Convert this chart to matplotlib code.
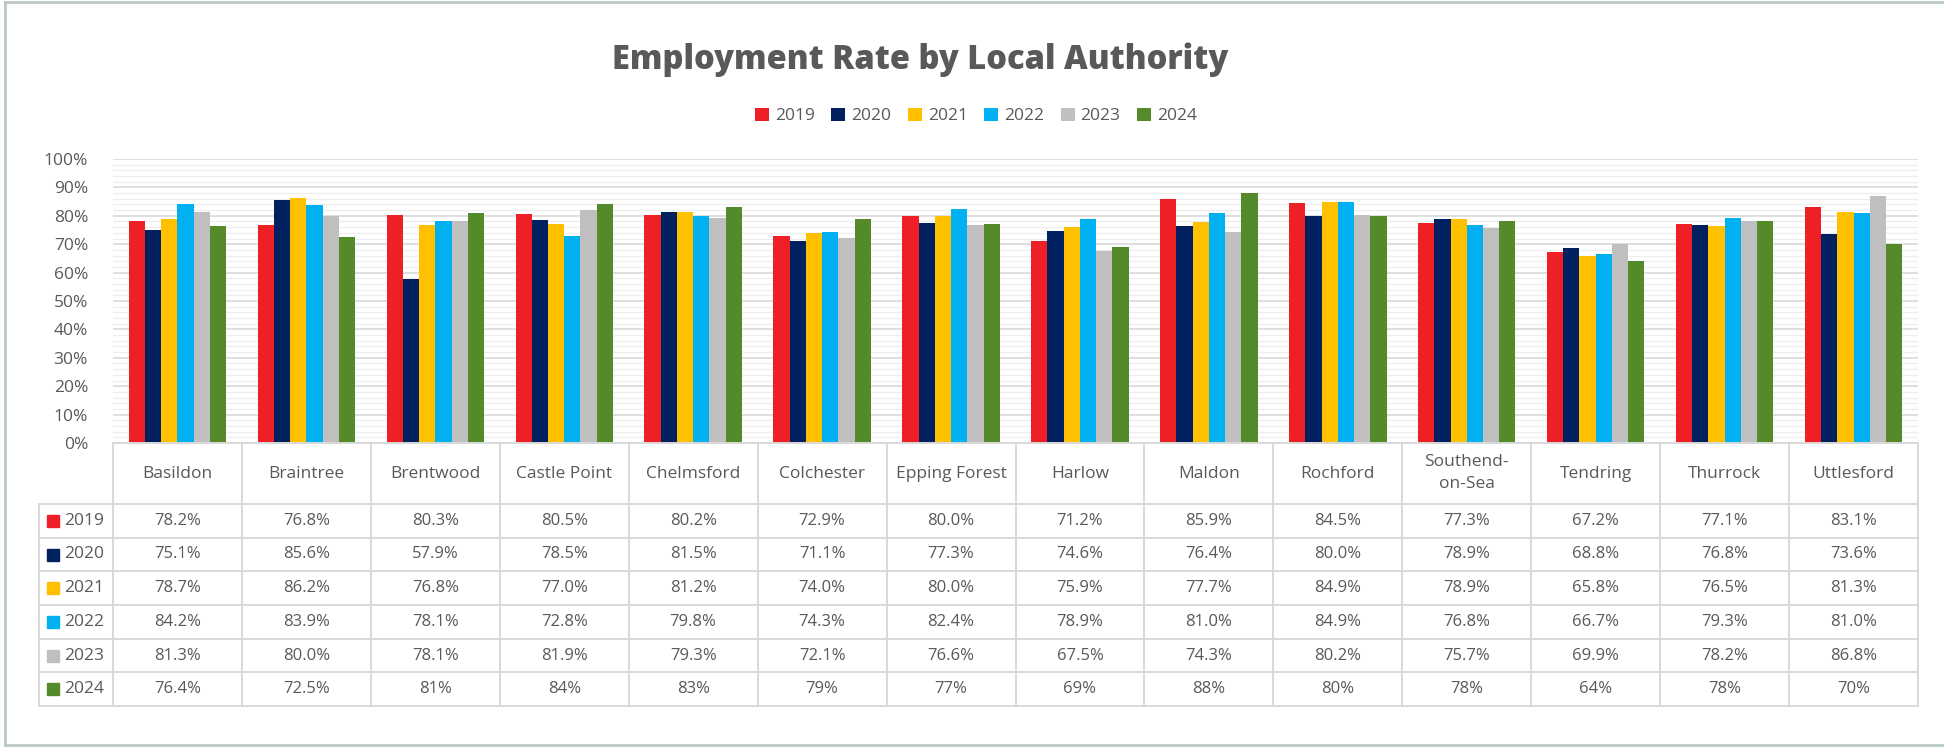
import matplotlib
matplotlib.use("Agg")
import matplotlib.pyplot as plt
import numpy as np
from matplotlib.patches import Rectangle

plt.rcParams['font.family'] = ['Open Sans', 'DejaVu Sans']

authorities = ["Basildon", "Braintree", "Brentwood", "Castle Point", "Chelmsford",
               "Colchester", "Epping Forest", "Harlow", "Maldon", "Rochford",
               "Southend-\non-Sea", "Tendring", "Thurrock", "Uttlesford"]
years = ["2019", "2020", "2021", "2022", "2023", "2024"]

rate_2019 = [78.2, 76.8, 80.3, 80.5, 80.2, 72.9, 80.0, 71.2, 85.9, 84.5, 77.3, 67.2, 77.1, 83.1]
rate_2020 = [75.1, 85.6, 57.9, 78.5, 81.5, 71.1, 77.3, 74.6, 76.4, 80.0, 78.9, 68.8, 76.8, 73.6]
rate_2021 = [78.7, 86.2, 76.8, 77.0, 81.2, 74.0, 80.0, 75.9, 77.7, 84.9, 78.9, 65.8, 76.5, 81.3]
rate_2022 = [84.2, 83.9, 78.1, 72.8, 79.8, 74.3, 82.4, 78.9, 81.0, 84.9, 76.8, 66.7, 79.3, 81.0]
rate_2023 = [81.3, 80.0, 78.1, 81.9, 79.3, 72.1, 76.6, 67.5, 74.3, 80.2, 75.7, 69.9, 78.2, 86.8]
rate_2024 = [76.4, 72.5, 81, 84, 83, 79, 77, 69, 88, 80, 78, 64, 78, 70]

series = [rate_2019, rate_2020, rate_2021, rate_2022, rate_2023, rate_2024]
colors = ["#ee1f25", "#002060", "#ffc000", "#00b0f0", "#bfbfbf", "#558a2a"]
text_col = "#595959"
line_col = "#d9d9d9"

W, H = 1944, 747
fig = plt.figure(figsize=(W / 100, H / 100), dpi=100)


def fx(px):
    return px / W


def fy(py):
    return 1 - py / H


# chart area
x0, x1, y_top, y_zero = 113, 1918, 159, 443
ax = fig.add_axes([fx(x0), fy(y_zero), fx(x1 - x0), (y_zero - y_top) / H])
n = len(authorities)
x = np.arange(n)
bw = 0.126
for i, (vals, c) in enumerate(zip(series, colors)):
    ax.bar(x + (i - 2.5) * bw, vals, bw, color=c, label=years[i], zorder=3)

ax.set_xlim(-0.5, n - 0.5)
ax.set_ylim(0, 100)
ax.set_yticks(np.arange(0, 101, 10))
ax.set_yticklabels([f"{v}%" for v in range(0, 101, 10)])
ax.set_yticks(np.arange(0, 101, 2), minor=True)
ax.tick_params(axis='y', which='both', length=0, pad=18, labelsize=12.5, labelcolor=text_col)
ax.set_xticks([])
ax.grid(axis='y', which='major', color="#d9d9d9", lw=1.2, zorder=0)
ax.grid(axis='y', which='minor', color="#eeeeee", lw=0.9, zorder=0)
for s in ax.spines.values():
    s.set_visible(False)

# data table under the bars
col_w = (x1 - x0) / n
lab_left = 39
tab_left = -0.5 - (x0 - lab_left) / col_w
t_bottom = 706
header_bottom = 504
tax = fig.add_axes([fx(lab_left), fy(t_bottom), fx(x1 - lab_left), (t_bottom - y_zero) / H])
tax.set_xlim(tab_left, n - 0.5)
tax.set_ylim(t_bottom, y_zero)
tax.axis("off")

row_h = (t_bottom - header_bottom) / len(years)
lw = 1.4
tax.plot([-0.5, n - 0.5], [y_zero, y_zero], color=line_col, lw=lw, clip_on=False)
for k in range(len(years) + 1):
    yy = header_bottom + k * row_h
    tax.plot([tab_left, n - 0.5], [yy, yy], color=line_col, lw=lw, clip_on=False)
tax.plot([tab_left, tab_left], [header_bottom, t_bottom], color=line_col, lw=lw, clip_on=False)
for j in range(n + 1):
    tax.plot([j - 0.5, j - 0.5], [y_zero, t_bottom], color=line_col, lw=lw, clip_on=False)

for j, name in enumerate(authorities):
    tax.text(j, (y_zero + header_bottom) / 2, name, ha='center', va='center',
             fontsize=12.5, color=text_col, linespacing=1.5)

sq = 12 / col_w
for k, (yr, vals, c) in enumerate(zip(years, series, colors)):
    yc = header_bottom + (k + 0.5) * row_h
    tax.add_patch(Rectangle((tab_left + 8 / col_w, yc - 6), sq, 12, color=c, clip_on=False))
    tax.text(tab_left + 25 / col_w, yc, yr, ha='left', va='center', fontsize=12.5, color=text_col)
    for j, v in enumerate(vals):
        s = f"{v:g}%" if yr == "2024" else f"{v:.1f}%"
        tax.text(j, yc, s, ha='center', va='center', fontsize=12, color=text_col)

fig.text(fx(920), fy(60), "Employment Rate by Local Authority", ha='center', va='center',
         fontsize=23.5, fontweight='heavy', color=text_col)

fig.legend(loc='center', bbox_to_anchor=(fx(976), fy(116)), ncol=6, frameon=False,
           handlelength=0.8, handleheight=0.8, handletextpad=0.35, columnspacing=0.95,
           fontsize=12.5, labelcolor=text_col)

# thin frame around the image
frame_col = "#b9c9c9"
fig.add_artist(plt.Line2D([fx(5), fx(5)], [fy(2), fy(745)], color=frame_col, lw=2))
fig.add_artist(plt.Line2D([fx(5), 1], [fy(2), fy(2)], color=frame_col, lw=2))
fig.add_artist(plt.Line2D([fx(5), 1], [fy(745), fy(745)], color=frame_col, lw=2))

fig.savefig("out.png", dpi=100, facecolor="white")
